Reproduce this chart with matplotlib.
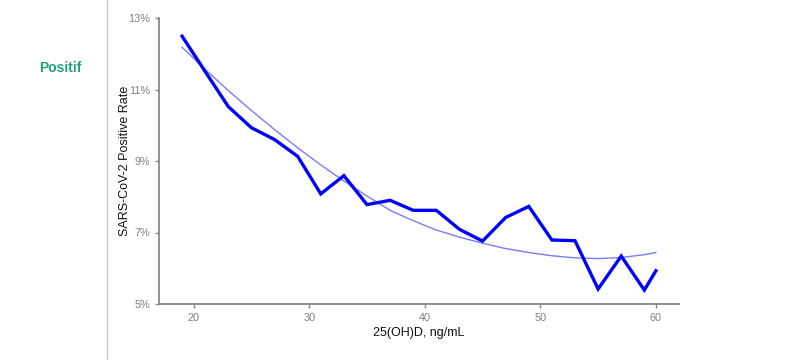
import numpy as np
import matplotlib
matplotlib.use("Agg")
import matplotlib.pyplot as plt
from matplotlib.ticker import FuncFormatter

plt.rcParams['font.family'] = ['Liberation Sans', 'DejaVu Sans']

# observed positive rate (%) by 25(OH)D level
vitd = [19, 21, 23, 25, 27, 29, 31, 33, 35, 37, 39, 41, 43, 45, 47, 49, 51, 53, 55, 57, 59, 60]
rate = [12.49, 11.5, 10.52, 9.93, 9.60, 9.13, 8.08, 8.59, 7.78, 7.90, 7.62, 7.62,
        7.09, 6.76, 7.42, 7.73, 6.79, 6.77, 5.42, 6.34, 5.39, 5.93]
# smoothed trend
trend = [12.18, 11.56, 10.97, 10.41, 9.88, 9.37, 8.89, 8.44, 8.02, 7.62, 7.33, 7.07,
         6.87, 6.70, 6.55, 6.44, 6.35, 6.29, 6.27, 6.30, 6.38, 6.44]

fig = plt.figure(figsize=(7.96, 3.6), dpi=100)
ax = fig.add_axes([159/796, 1-304/360, (679-159)/796, (304-18)/360])

ax.plot(vitd, trend, color='#7b7bff', lw=1.0)
ax.plot(vitd, rate, color='#0000ff', lw=2.4, solid_joinstyle='miter')

ax.set_xlim(17.0, 62.0)
ax.set_ylim(5, 13)
ax.set_xticks([20, 30, 40, 50, 60])
ax.set_yticks([5, 7, 9, 11, 13])
ax.yaxis.set_major_formatter(FuncFormatter(lambda v, p: '%d%%' % v))

for s in ['top', 'right']:
    ax.spines[s].set_visible(False)
for s in ['left', 'bottom']:
    ax.spines[s].set_color('#888888')
    ax.spines[s].set_linewidth(1.3)
ax.tick_params(colors='#888888', labelcolor='#808080', labelsize=7.8, length=3, width=1)

ax.set_xlabel('25(OH)D, ng/mL', fontsize=9, color='#111111', labelpad=3)
ax.set_ylabel('SARS-CoV-2 Positive Rate', fontsize=9, color='#111111', labelpad=-2)

fig.text(60/796, 1-68/360, 'Positif', color='#1fa37a', fontsize=10, fontweight='bold',
         ha='center', va='center')
fig.add_artist(plt.Line2D([107/796, 107/796], [0, 1], color='#cccccc', lw=1,
                          transform=fig.transFigure))

fig.savefig('out.png', dpi=100)
